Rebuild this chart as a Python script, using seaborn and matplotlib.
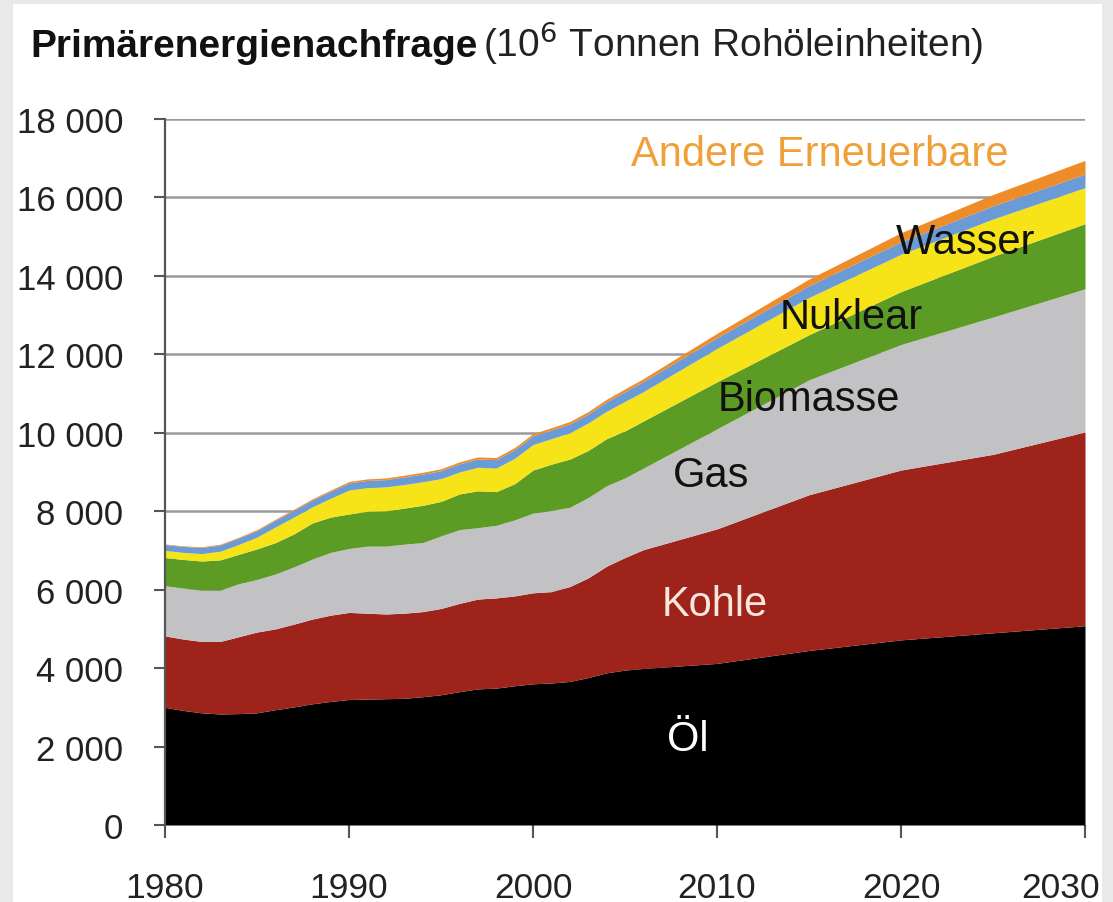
import numpy as np
import matplotlib
matplotlib.use("Agg")
import matplotlib.pyplot as plt
import matplotlib.transforms as mtransforms
from matplotlib.patches import Rectangle
import seaborn as sns

# years: annual history up to 2006, projection points afterwards
years = [1980, 1981, 1982, 1983, 1984, 1985, 1986, 1987, 1988, 1989,
         1990, 1991, 1992, 1993, 1994, 1995, 1996, 1997, 1998, 1999,
         2000, 2001, 2002, 2003, 2004, 2005, 2006,
         2010, 2015, 2020, 2025, 2030]

oel = [3000, 2920, 2860, 2830, 2840, 2860, 2940, 3010, 3090, 3150,
       3200, 3210, 3220, 3230, 3270, 3320, 3400, 3470, 3490, 3550,
       3600, 3620, 3660, 3760, 3880, 3950, 3990,
       4120, 4450, 4720, 4900, 5080]
kohle = [1820, 1820, 1820, 1850, 1960, 2060, 2060, 2110, 2160, 2200,
         2220, 2190, 2160, 2170, 2170, 2200, 2250, 2290, 2300, 2290,
         2320, 2330, 2420, 2540, 2720, 2870, 3030,
         3430, 3970, 4330, 4550, 4940]
gas = [1280, 1300, 1310, 1310, 1350, 1340, 1400, 1460, 1530, 1600,
       1630, 1710, 1730, 1760, 1760, 1850, 1880, 1820, 1850, 1940,
       2030, 2070, 2020, 2050, 2050, 2030, 2080,
       2550, 2930, 3200, 3500, 3650]
biomasse = [720, 730, 740, 770, 750, 780, 800, 840, 920, 900,
            880, 890, 900, 920, 950, 880, 910, 940, 860, 920,
            1100, 1180, 1230, 1200, 1200, 1200, 1200,
            1200, 1150, 1350, 1550, 1660]
nuklear = [180, 180, 190, 220, 250, 300, 400, 430, 410, 480,
           610, 600, 610, 600, 600, 580, 560, 600, 600, 650,
           650, 650, 670, 700, 700, 750, 750,
           850, 950, 950, 950, 920]
wasser = [150, 152, 155, 160, 165, 168, 170, 172, 175, 178,
          180, 185, 186, 195, 196, 205, 208, 212, 215, 218,
          222, 220, 225, 228, 240, 250, 258,
          275, 300, 320, 335, 345]
andere = [15, 16, 18, 20, 22, 25, 27, 29, 30, 33,
          38, 40, 42, 44, 46, 48, 50, 52, 54, 56,
          58, 60, 62, 64, 66, 70, 74,
          110, 170, 230, 290, 350]

farben = ["#000000", "#9e231b", "#c2c2c4", "#5c9c25", "#f6e418", "#6b9bd6", "#ef8c2a"]

sns.set_theme(style="white")
plt.rcParams['font.family'] = ['Liberation Sans', 'DejaVu Sans']

fig = plt.figure(figsize=(11.13, 9.03), dpi=100)
fig.patch.set_facecolor("#e9e9e9")
fig.patches.append(Rectangle((13 / 1113, 0), (1102 - 13) / 1113, 1 - 5 / 903,
                             transform=fig.transFigure, facecolor="white",
                             edgecolor="none", zorder=-10))

ax = fig.add_axes([165 / 1113, 77 / 903, 920 / 1113, 706 / 903])
ax.set_facecolor("none")
ax.set_zorder(5)

ax.stackplot(years, oel, kohle, gas, biomasse, nuklear, wasser, andere,
             colors=farben, linewidth=0, zorder=2)

ax.set_xlim(1980, 2030)
ax.set_ylim(0, 18000)
ax.set_xticks([1980, 1990, 2000, 2010, 2020, 2030])
yt = np.arange(0, 18001, 2000)
ax.set_yticks(yt)
ax.set_yticklabels(["0" if v == 0 else f"{v // 1000} 000" for v in yt])

for v in yt[1:]:
    ax.axhline(v, color="#9a9a9a", lw=1.8, zorder=1)

sns.despine(ax=ax, top=True, right=True, bottom=True)
ax.spines["left"].set_color("#555555")
ax.spines["left"].set_linewidth(1.6)
ax.tick_params(axis="y", direction="out", length=8, width=1.5, color="#555555",
               pad=22, labelsize=25, labelcolor="#222222", left=True)
ax.tick_params(axis="x", direction="out", length=9, width=1.5, color="#555555",
               pad=24, labelsize=25.5, labelcolor="#222222", bottom=True)

# last year label sits a bit left so it stays inside the panel
last = ax.get_xticklabels()[-1]
last.set_transform(last.get_transform() +
                   mtransforms.ScaledTranslation(-24 / 100, 0, fig.dpi_scale_trans))

# title
fig.text(30 / 1113, 1 - 57 / 903, "Primärenergienachfrage", fontsize=28,
         fontweight="bold", color="#111111", ha="left", va="baseline")
fig.text(483 / 1113, 1 - 57 / 903, r"(10$^{6}$ Tonnen Rohöleinheiten)", fontsize=28,
         color="#222222", ha="left", va="baseline")

# series labels
labels = [("Andere Erneuerbare", 2015.6, 17110, "#f0a038"),
          ("Wasser", 2023.5, 14870, "#111111"),
          ("Nuklear", 2017.3, 12950, "#111111"),
          ("Biomasse", 2015.0, 10860, "#111111"),
          ("Gas", 2009.7, 8925, "#111111"),
          ("Kohle", 2009.9, 5635, "#fbe6de"),
          ("Öl", 2008.4, 2190, "#ffffff")]
for txt, xx, yy, c in labels:
    ax.text(xx, yy, txt, fontsize=30, color=c, ha="center", va="center", zorder=5)

plt.savefig("out.png", dpi=100, facecolor=fig.get_facecolor())
